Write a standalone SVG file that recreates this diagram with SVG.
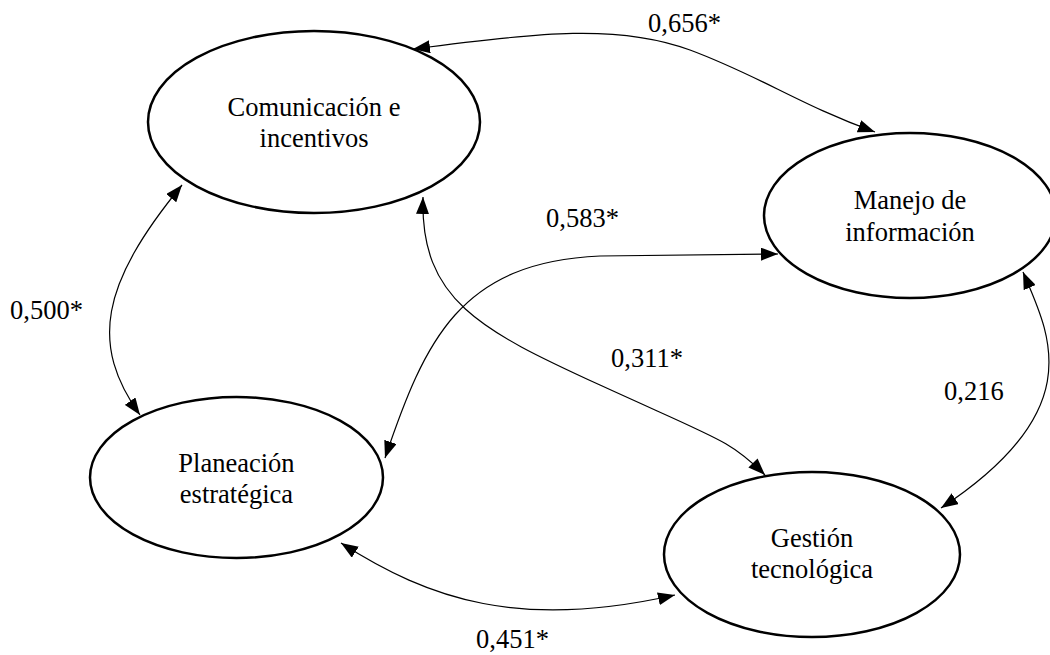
<svg xmlns="http://www.w3.org/2000/svg" width="1050" height="655" viewBox="0 0 1050 655">
<style>
.node ellipse{fill:#fff;stroke:#000;stroke-width:2.5}
text{font-family:"Liberation Serif","Times New Roman",serif;font-size:26.5px;fill:#000}
.node text{text-anchor:middle}
.conn path{fill:none;stroke:#000;stroke-width:1.2;marker-start:url(#ah);marker-end:url(#ah)}
</style>
<defs>
<marker id="ah" viewBox="0 0 17 13" refX="17" refY="6.5" markerWidth="17" markerHeight="13" markerUnits="userSpaceOnUse" orient="auto-start-reverse">
<path d="M0,0 L17,6.5 L0,13 z" fill="#000"/>
</marker>
</defs>
<rect width="1050" height="655" fill="#fff"/>
<g class="conn" id="connectors">
<path d="M413,49 C540,32 620,24 690,50 S800,105 875,132"/>
<path d="M385,458 C425,340 460,262 600,256 L778,254"/>
<path d="M423,197 C420,300 480,330 600,385 S730,440 765,475"/>
<path d="M182,185 C100,285 90,345 140,415"/>
<path d="M341,543 C430,600 520,630 675,595"/>
<path d="M1023,272 C1050,335 1090,410 941,508"/>
</g>
<g id="labels">
<text x="648" y="32">0,656*</text>
<text x="546" y="227">0,583*</text>
<text x="10" y="319">0,500*</text>
<text x="611" y="367">0,311*</text>
<text x="944" y="400">0,216</text>
<text x="476" y="648">0,451*</text>
</g>
<g class="node" id="comunicacion">
<ellipse cx="314" cy="122" rx="166" ry="91"/>
<text x="314" y="116">Comunicación e</text>
<text x="314" y="147">incentivos</text>
</g>
<g class="node" id="manejo">
<ellipse cx="910" cy="215.5" rx="146" ry="82.5"/>
<text x="910" y="209">Manejo de</text>
<text x="910" y="241">información</text>
</g>
<g class="node" id="planeacion">
<ellipse cx="236.5" cy="477.5" rx="146.5" ry="80.5"/>
<text x="236.5" y="472">Planeación</text>
<text x="236.5" y="503">estratégica</text>
</g>
<g class="node" id="gestion">
<ellipse cx="812" cy="554.5" rx="148" ry="82.5"/>
<text x="812" y="547">Gestión</text>
<text x="812" y="578">tecnológica</text>
</g>
</svg>
